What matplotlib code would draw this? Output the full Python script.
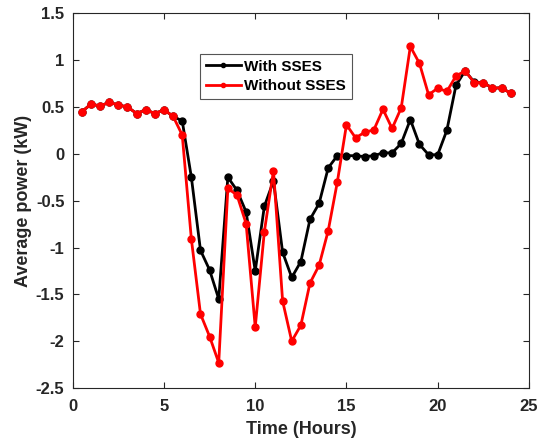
import numpy as np
import matplotlib.pyplot as plt

plt.rcParams['font.family'] = ['Liberation Sans', 'DejaVu Sans']
plt.rcParams['font.weight'] = 'bold'

# time axis, half-hour steps
hours = np.arange(0.5, 24.01, 0.5)

# average power (kW)
with_sses = [0.45, 0.53, 0.51, 0.55, 0.52, 0.50, 0.43, 0.47, 0.43, 0.47, 0.40, 0.35,
             -0.25, -1.03, -1.24, -1.55, -0.25, -0.39, -0.62, -1.25, -0.56, -0.29,
             -1.05, -1.32, -1.15, -0.70, -0.53, -0.15, -0.02, -0.02, -0.02, -0.03,
             -0.02, 0.01, 0.01, 0.11, 0.365, 0.10, -0.01, -0.01, 0.25, 0.73, 0.885,
             0.765, 0.76, 0.70, 0.705, 0.645]
without_sses = [0.45, 0.53, 0.51, 0.55, 0.52, 0.50, 0.43, 0.47, 0.43, 0.47, 0.40, 0.20,
                -0.91, -1.71, -1.95, -2.23, -0.37, -0.44, -0.745, -1.85, -0.83, -0.18,
                -1.57, -2.0, -1.83, -1.38, -1.19, -0.82, -0.30, 0.31, 0.17, 0.23,
                0.255, 0.475, 0.27, 0.49, 1.145, 0.965, 0.63, 0.70, 0.665, 0.83, 0.885,
                0.76, 0.76, 0.70, 0.705, 0.645]

yticks = [-2.5, -2, -1.5, -1, -0.5, 0, 0.5, 1, 1.5]
ytick_labels = ['-2.5', '-2', '-1.5', '-1', '-0.5', '0', '0.5', '1', '1.5']
xticks = [0, 5, 10, 15, 20, 25]

fig = plt.figure(figsize=(5.47, 4.41), dpi=100)
ax = fig.add_axes([0.133, 0.120, 0.834, 0.850])

ax.plot(hours, with_sses, color='black', lw=2, marker='o', ms=5, label='With SSES')
ax.plot(hours, without_sses, color='red', lw=2, marker='o', ms=5, label='Without SSES')

ax.set_xlim(0, 25)
ax.set_ylim(-2.5, 1.5)
ax.set_xticks(xticks)
ax.set_yticks(yticks)
ax.set_yticklabels(ytick_labels)
ax.tick_params(direction='in', top=True, right=True, labelsize=12, color='#262626',
               labelcolor='#262626', length=4, width=0.8, pad=6)
ax.tick_params(axis='x', pad=8)
for lab in ax.get_xticklabels() + ax.get_yticklabels():
    lab.set_fontweight('bold')
for sp in ax.spines.values():
    sp.set_color('#262626')
    sp.set_linewidth(0.8)

ax.set_xlabel('Time (Hours)', fontsize=13, fontweight='bold', color='#262626', labelpad=5)
ax.set_ylabel('Average power (kW)', fontsize=13, fontweight='bold', color='#262626', labelpad=3)

leg = ax.legend(loc='upper left', bbox_to_anchor=(0.278, 0.892), fontsize=11, frameon=True,
                fancybox=False, framealpha=1, edgecolor='#555555', borderpad=0.4,
                handlelength=2.3, handletextpad=0.2, labelspacing=0.35, borderaxespad=0,
                markerscale=0.6)
leg.get_frame().set_linewidth(0.8)
for t in leg.get_texts():
    t.set_fontweight('bold')

fig.savefig('out.png', dpi=100)
